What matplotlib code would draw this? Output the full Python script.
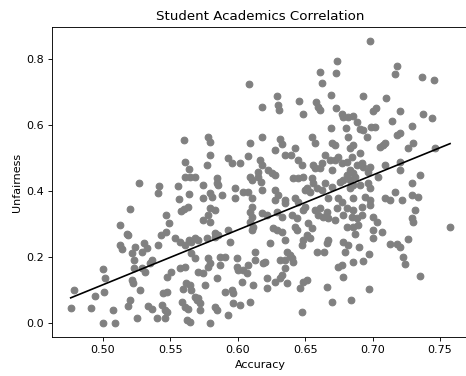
import numpy as np
import matplotlib
matplotlib.use("Agg")
import matplotlib.pyplot as plt

# accuracy / unfairness per student
accuracy = [
    0.608, 0.6611, 0.6626, 0.629, 0.6176, 0.6295, 0.6305, 0.6455, 0.6485, 0.6577, 0.6592, 0.6607,
    0.6983, 0.6738, 0.6726, 0.7183, 0.7168, 0.7364, 0.7456, 0.6691, 0.6928, 0.7101, 0.6726, 0.677,
    0.6782, 0.6819, 0.6856, 0.6882, 0.7005, 0.7025, 0.7201, 0.7144, 0.7376, 0.7439, 0.6691, 0.6804,
    0.6906, 0.6931, 0.6986, 0.7018, 0.729,
    0.5597, 0.5607, 0.5639, 0.5263, 0.5414, 0.5411, 0.5557, 0.5639, 0.556, 0.5579, 0.5601, 0.5627,
    0.52, 0.5468, 0.5488, 0.5124, 0.5178, 0.5468, 0.5428,
    0.5183, 0.5126, 0.5139, 0.5238, 0.5307, 0.5324, 0.5287, 0.5411, 0.553, 0.5572, 0.5609, 0.5634,
    0.5213, 0.5226, 0.5362, 0.5349, 0.5287, 0.5312, 0.5226, 0.5003, 0.5015, 0.5503, 0.5473, 0.5572,
    0.5609, 0.5213, 0.5221, 0.4788, 0.501, 0.4941, 0.5275, 0.5448, 0.5473, 0.559, 0.52, 0.5183,
    0.476, 0.4909, 0.5074, 0.5337, 0.5362, 0.5436, 0.546, 0.5473, 0.5584, 0.5609, 0.525, 0.5399,
    0.5456, 0.5622, 0.4998, 0.5085,
    0.578, 0.5792, 0.6089, 0.6181, 0.6312, 0.6325, 0.6547, 0.6572, 0.6423, 0.6394, 0.6275, 0.5792,
    0.5928, 0.5953, 0.6015, 0.6072, 0.6164, 0.6176, 0.6151, 0.6146, 0.6349, 0.6448, 0.6473, 0.6559,
    0.6572, 0.6622, 0.5768, 0.5607, 0.5644, 0.5681, 0.5842, 0.5842, 0.5854, 0.6089, 0.6102, 0.6171,
    0.6225, 0.625, 0.6275, 0.6411, 0.6448, 0.6485, 0.6547, 0.6559, 0.5743, 0.5792, 0.5805, 0.5743,
    0.5879, 0.5978, 0.5978, 0.604, 0.6077, 0.6102, 0.6102, 0.6176, 0.6275, 0.63, 0.6275, 0.6349,
    0.6349, 0.6498, 0.651, 0.6535, 0.6585, 0.6622, 0.6423, 0.6448, 0.5792, 0.5829, 0.578, 0.6089,
    0.6102, 0.6089, 0.6176, 0.6213, 0.6288, 0.6325, 0.6399, 0.6436, 0.6485, 0.6498, 0.6572, 0.6597,
    0.5743, 0.5792, 0.6114, 0.6102, 0.6262, 0.6288, 0.6325, 0.6423, 0.6436, 0.6522, 0.6547, 0.5928,
    0.5829,
    0.6819, 0.6956, 0.7179, 0.7203, 0.6696, 0.6721, 0.6856, 0.6832, 0.7055, 0.7079, 0.7092, 0.7302,
    0.7265, 0.7463, 0.6646, 0.6683, 0.672, 0.6745, 0.677, 0.6807, 0.6845, 0.6906, 0.6919, 0.6931,
    0.6882, 0.6609, 0.6696, 0.6832, 0.6856, 0.6869, 0.6832, 0.6807, 0.6968, 0.698, 0.7092, 0.7203,
    0.7203, 0.7042, 0.7352, 0.6646, 0.6696, 0.6758, 0.6782, 0.6856, 0.6832, 0.6906, 0.6968, 0.698,
    0.729, 0.7166, 0.6671, 0.6745, 0.677, 0.6856, 0.6943, 0.698, 0.7092, 0.7129, 0.7216, 0.729,
    0.7339, 0.6609, 0.6659, 0.6733, 0.6807, 0.6856, 0.6919, 0.698, 0.7315, 0.6634, 0.6671, 0.672,
    0.6782, 0.6845, 0.6882, 0.6919, 0.7005, 0.703, 0.729, 0.7302, 0.6807, 0.6856, 0.6894, 0.7005,
    0.7067, 0.7574,
    0.5656, 0.5681, 0.5705, 0.5768, 0.5829, 0.5854, 0.5941, 0.6238, 0.6349, 0.651, 0.6535, 0.6485,
    0.6473, 0.6585, 0.5656, 0.5681, 0.578, 0.5792, 0.578, 0.5867, 0.5904, 0.5867, 0.5991, 0.5991,
    0.6002, 0.604, 0.6065, 0.6126, 0.6126, 0.6077, 0.6188, 0.6201, 0.6362, 0.6386, 0.6399, 0.6411,
    0.6312, 0.6349, 0.6349, 0.5705, 0.5743, 0.5842, 0.5619, 0.5644, 0.5656, 0.5755, 0.6028, 0.6114,
    0.6213, 0.6213, 0.6275, 0.6312, 0.6325, 0.6362, 0.6485, 0.651, 0.6461, 0.5904, 0.5953, 0.5965,
    0.5681, 0.5694, 0.5705, 0.5631, 0.5718, 0.5718, 0.5829, 0.5842, 0.5965, 0.6015, 0.6089, 0.5928,
    0.6473, 0.5644, 0.5792,
    0.6867, 0.7005, 0.6671, 0.6659, 0.6782, 0.6819, 0.6901, 0.7129, 0.7179, 0.7203, 0.7265, 0.6639,
    0.6795, 0.6975, 0.7223, 0.724, 0.6931, 0.6856, 0.6745, 0.677, 0.6778, 0.7352, 0.6663, 0.6975,
    0.6696, 0.6837,
]

unfairness = [
    0.726, 0.762, 0.727, 0.689, 0.655, 0.662, 0.646, 0.675, 0.635, 0.672, 0.656, 0.646,
    0.855, 0.795, 0.758, 0.779, 0.756, 0.747, 0.736, 0.692, 0.690, 0.682, 0.652, 0.634,
    0.626, 0.625, 0.628, 0.611, 0.643, 0.652, 0.643, 0.614, 0.634, 0.623, 0.593, 0.592,
    0.590, 0.586, 0.594, 0.596, 0.597,
    0.555, 0.490, 0.468, 0.424, 0.417, 0.396, 0.417, 0.391, 0.376, 0.340, 0.347, 0.352,
    0.346, 0.328, 0.305, 0.298, 0.271, 0.278, 0.268,
    0.268, 0.237, 0.224, 0.230, 0.242, 0.227, 0.217, 0.237, 0.258, 0.247, 0.237, 0.252,
    0.212, 0.192, 0.192, 0.182, 0.167, 0.156, 0.167, 0.164, 0.136, 0.156, 0.141, 0.167,
    0.172, 0.131, 0.123, 0.101, 0.094, 0.084, 0.101, 0.093, 0.096, 0.103, 0.071, 0.052,
    0.047, 0.047, 0.040, 0.052, 0.045, 0.055, 0.040, 0.035, 0.065, 0.050, 0.017, 0.017,
    0.015, 0.010, 0.0, 0.0,
    0.564, 0.550, 0.547, 0.565, 0.558, 0.543, 0.565, 0.545, 0.530, 0.510, 0.525, 0.510,
    0.500, 0.485, 0.485, 0.507, 0.495, 0.480, 0.459, 0.444, 0.510, 0.495, 0.480, 0.480,
    0.470, 0.485, 0.480, 0.444, 0.444, 0.444, 0.439, 0.424, 0.419, 0.444, 0.434, 0.429,
    0.465, 0.455, 0.449, 0.439, 0.439, 0.444, 0.439, 0.424, 0.419, 0.394, 0.384, 0.379,
    0.389, 0.409, 0.379, 0.399, 0.399, 0.379, 0.353, 0.404, 0.404, 0.389, 0.374, 0.374,
    0.364, 0.404, 0.409, 0.399, 0.409, 0.404, 0.379, 0.368, 0.348, 0.343, 0.328, 0.338,
    0.323, 0.308, 0.333, 0.328, 0.338, 0.323, 0.328, 0.318, 0.343, 0.353, 0.343, 0.328,
    0.313, 0.308, 0.293, 0.283, 0.288, 0.283, 0.278, 0.293, 0.283, 0.303, 0.288, 0.283,
    0.273,
    0.565, 0.565, 0.571, 0.576, 0.545, 0.540, 0.540, 0.530, 0.535, 0.540, 0.545, 0.545,
    0.530, 0.530, 0.510, 0.495, 0.495, 0.505, 0.485, 0.490, 0.505, 0.515, 0.485, 0.475,
    0.480, 0.470, 0.465, 0.465, 0.455, 0.444, 0.434, 0.449, 0.459, 0.475, 0.480, 0.490,
    0.465, 0.444, 0.449, 0.424, 0.414, 0.429, 0.434, 0.419, 0.409, 0.419, 0.424, 0.409,
    0.424, 0.399, 0.379, 0.379, 0.368, 0.379, 0.384, 0.374, 0.379, 0.374, 0.374, 0.389,
    0.384, 0.348, 0.338, 0.348, 0.348, 0.343, 0.353, 0.358, 0.343, 0.323, 0.318, 0.313,
    0.328, 0.323, 0.318, 0.328, 0.323, 0.308, 0.318, 0.308, 0.293, 0.293, 0.298, 0.283,
    0.278, 0.291,
    0.247, 0.258, 0.252, 0.258, 0.262, 0.268, 0.247, 0.242, 0.252, 0.268, 0.258, 0.252,
    0.237, 0.217, 0.212, 0.197, 0.197, 0.182, 0.172, 0.202, 0.202, 0.177, 0.197, 0.172,
    0.162, 0.162, 0.152, 0.217, 0.192, 0.177, 0.182, 0.187, 0.217, 0.207, 0.197, 0.187,
    0.192, 0.192, 0.167, 0.156, 0.152, 0.136, 0.121, 0.116, 0.101, 0.116, 0.126, 0.116,
    0.136, 0.106, 0.126, 0.136, 0.146, 0.121, 0.126, 0.131, 0.106, 0.096, 0.101, 0.091,
    0.081, 0.071, 0.076, 0.045, 0.061, 0.040, 0.050, 0.040, 0.061, 0.055, 0.065, 0.025,
    0.035, 0.005, 0.0,
    0.271, 0.258, 0.252, 0.244, 0.247, 0.237, 0.230, 0.240, 0.240, 0.232, 0.255, 0.217,
    0.217, 0.210, 0.200, 0.180, 0.190, 0.185, 0.172, 0.177, 0.141, 0.143, 0.111, 0.104,
    0.065, 0.071,
]

# trend line as drawn in the reference (slope / intercept)
fit_slope = 1.660
fit_intercept = -0.7128

x = np.array(accuracy)
y = np.array(unfairness)
xs = np.array([x.min(), x.max()])

fig = plt.figure(figsize=(5.825, 4.7), dpi=80)
ax = fig.add_axes([0.111, 0.1024, 0.8955, 0.8258])
ax.scatter(x, y, color="grey")
ax.plot(xs, fit_slope * xs + fit_intercept, color="black")
ax.set_title("Student Academics Correlation")
ax.set_xlabel("Accuracy")
ax.set_ylabel("Unfairness")
fig.savefig("out.png", dpi=80)
